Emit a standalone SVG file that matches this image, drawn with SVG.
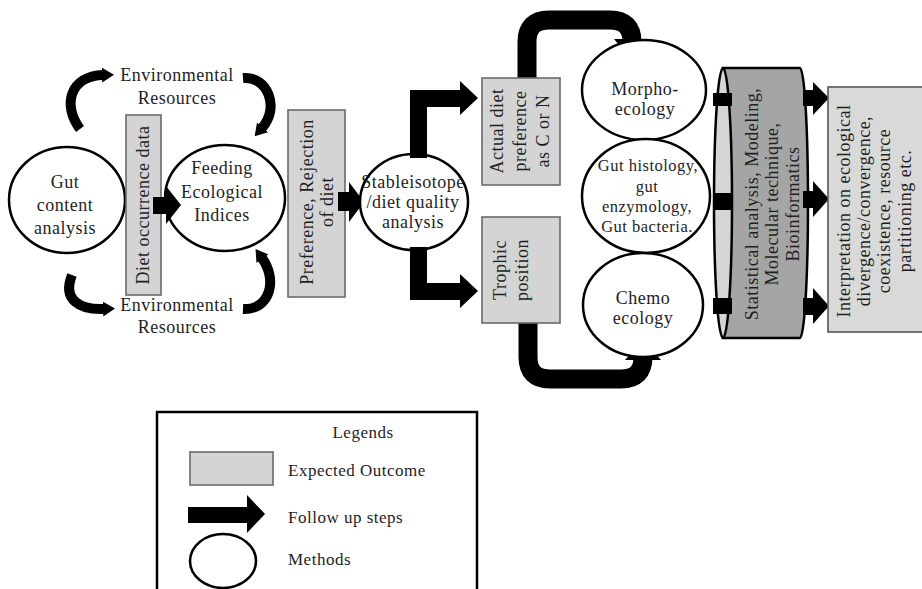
<svg xmlns="http://www.w3.org/2000/svg" width="922" height="589" viewBox="0 0 922 589">
<style>
.t{font-family:'Liberation Serif','DejaVu Serif',serif;font-size:18px;fill:#1e1e1e;letter-spacing:0.5px;text-anchor:middle}
.tl{text-anchor:start}
.m{fill:#fff;stroke:#000;stroke-width:2.5}
.o{fill:#d4d4d4;stroke:#6a6a6a;stroke-width:1.6}
.a{fill:#000}
.c{fill:none;stroke:#000;stroke-width:10}
.k{fill:none;stroke:#000;stroke-width:19}
</style>
<defs>
<marker id="ah" viewBox="0 0 12 15" refX="1" refY="7.5" markerWidth="12" markerHeight="15" markerUnits="userSpaceOnUse" orient="auto">
<path d="M0,0 L12,7.5 L0,15 z" fill="#000"/>
</marker>
</defs>
<rect width="922" height="589" fill="#fff"/>

<g id="connectors">
<path class="c" d="M 80 129 C 62 105 70 76 103 75" marker-end="url(#ah)"/>
<path class="c" d="M 243 78 C 268 76 280 108 262 128" marker-end="url(#ah)"/>
<path class="c" d="M 72 275 C 62 300 80 310 104 309" marker-end="url(#ah)"/>
<path class="c" d="M 243 309 C 270 310 278 280 262 258" marker-end="url(#ah)"/>
<path class="k" d="M 527 80 L 527 42 Q 527 20 549 20 L 610 20 Q 632 20 632 42 L 632 44"/>
<polygon class="a" points="614,39 651,39 633,62"/>
<path class="k" d="M 528 322 L 528 357 Q 528 379 550 379 L 621 379 Q 643 379 643 357 L 643 356"/>
<polygon class="a" points="625,360 661,360 643,340"/>
</g>

<g id="gut-content">
<ellipse class="m" cx="67" cy="200" rx="58" ry="53"/>
<text class="t" x="65" y="188">Gut</text>
<text class="t" x="65" y="211">content</text>
<text class="t" x="65" y="234">analysis</text>
</g>

<g id="env-top">
<text class="t" x="177" y="81">Environmental</text>
<text class="t" x="177" y="104">Resources</text>
</g>
<g id="env-bottom">
<text class="t" x="177" y="311">Environmental</text>
<text class="t" x="177" y="333">Resources</text>
</g>

<g id="diet-occurrence">
<rect class="o" x="126" y="115" width="35" height="180"/>
<text class="t" transform="translate(149,205) rotate(-90)">Diet occurrence data</text>
</g>

<g id="feeding">
<ellipse class="m" cx="225" cy="198" rx="60" ry="53"/>
<text class="t" x="222" y="174">Feeding</text>
<text class="t" x="222" y="198">Ecological</text>
<text class="t" x="222" y="221">Indices</text>
</g>

<g id="arrow1">
<polygon class="a" points="153,197 166,197 166,186 181,205 166,224 166,214 153,214"/>
</g>

<g id="preference">
<rect class="o" x="288" y="110" width="57" height="187"/>
<text class="t" transform="translate(313,202) rotate(-90)">Preference, Rejection</text>
<text class="t" transform="translate(333,202) rotate(-90)">of diet</text>
</g>

<g id="arrow2">
<polygon class="a" points="338,192 349,192 349,182 364,202 349,222 349,211 338,211"/>
</g>

<g id="stable-isotope">
<ellipse class="m" cx="414" cy="202" rx="54" ry="48"/>
<text class="t" x="413" y="188">Stableisotope</text>
<text class="t" x="413" y="208">/diet quality</text>
<text class="t" x="413" y="228">analysis</text>
</g>

<g id="fork-arrows">
<polygon class="a" points="410,158 410,90 460,90 460,81 478,98 460,115 460,107 427,107 427,158"/>
<polygon class="a" points="410,247 410,300 460,300 460,308 478,291 460,274 460,283 427,283 427,247"/>
</g>

<g id="actual-diet">
<rect class="o" x="482" y="78" width="78" height="107"/>
<text class="t" transform="translate(503,131) rotate(-90)">Actual diet</text>
<text class="t" transform="translate(526,131) rotate(-90)">preference</text>
<text class="t" transform="translate(549,131) rotate(-90)">as C or N</text>
</g>

<g id="trophic">
<rect class="o" x="482" y="217" width="78" height="106"/>
<text class="t" transform="translate(506,270) rotate(-90)">Trophic</text>
<text class="t" transform="translate(528,270) rotate(-90)">position</text>
</g>

<g id="morpho">
<ellipse class="m" cx="644" cy="90" rx="62" ry="50"/>
<text class="t" x="645" y="95">Morpho-</text>
<text class="t" x="645" y="115">ecology</text>
</g>

<g id="gut-histology">
<ellipse class="m" cx="646" cy="196" rx="64" ry="57"/>
<text class="t" style="font-size:16.5px" x="648" y="171">Gut histology,</text>
<text class="t" style="font-size:16.5px" x="647" y="192">gut</text>
<text class="t" style="font-size:16.5px" x="647" y="212">enzymology,</text>
<text class="t" style="font-size:16.5px" x="647" y="232">Gut bacteria.</text>
</g>

<g id="chemo">
<ellipse class="m" cx="643" cy="305" rx="60" ry="52"/>
<text class="t" x="643" y="304">Chemo</text>
<text class="t" x="643" y="324">ecology</text>
</g>

<g id="statistical">
<path d="M 723 68 L 800 68 A 8 135 0 0 1 800 338 L 723 338 Z" fill="#a5a5a5" stroke="#000" stroke-width="2.5"/>
<ellipse cx="723" cy="203" rx="9" ry="135" fill="#d6d6d6" stroke="#000" stroke-width="2.5"/>
<rect class="a" x="713" y="93" width="19" height="13"/>
<rect class="a" x="713" y="193" width="19" height="17"/>
<rect class="a" x="713" y="298" width="19" height="16"/>
<text class="t" transform="translate(758,204) rotate(-90)">Statistical analysis, Modeling,</text>
<text class="t" transform="translate(778,204) rotate(-90)">Molecular technique,</text>
<text class="t" transform="translate(799,204) rotate(-90)">Bioinformatics</text>
</g>

<g id="out-arrows">
<polygon class="a" points="803,90 813,90 813,82 829,98 813,115 813,106 803,106"/>
<polygon class="a" points="803,191 813,191 813,181 829,199 813,217 813,208 803,208"/>
<polygon class="a" points="803,298 813,298 813,288 829,306 813,324 813,315 803,315"/>
</g>

<g id="interpretation">
<rect x="828" y="87" width="110" height="245" fill="#d9d9d9" stroke="#555" stroke-width="1.6"/>
<text class="t" transform="translate(850,211) rotate(-90)">Interpretation on ecological</text>
<text class="t" transform="translate(870,211) rotate(-90)">divergence/convergence,</text>
<text class="t" transform="translate(890,211) rotate(-90)">coexistence, resource</text>
<text class="t" transform="translate(911,211) rotate(-90)">partitioning etc.</text>
</g>

<g id="legend">
<rect x="157" y="412" width="320" height="200" fill="#fff" stroke="#000" stroke-width="2.5"/>
<text class="t" style="font-size:17px" x="363" y="438">Legends</text>
<rect class="o" x="190" y="452" width="83" height="33"/>
<text class="t tl" style="font-size:17px" x="288" y="476">Expected Outcome</text>
<polygon class="a" points="188,507 247,507 247,495 265,514 247,533 247,523 188,523"/>
<text class="t tl" style="font-size:17px" x="288" y="523">Follow up steps</text>
<ellipse class="m" cx="223" cy="561" rx="33" ry="27"/>
<text class="t tl" style="font-size:17px" x="288" y="565">Methods</text>
</g>
</svg>
